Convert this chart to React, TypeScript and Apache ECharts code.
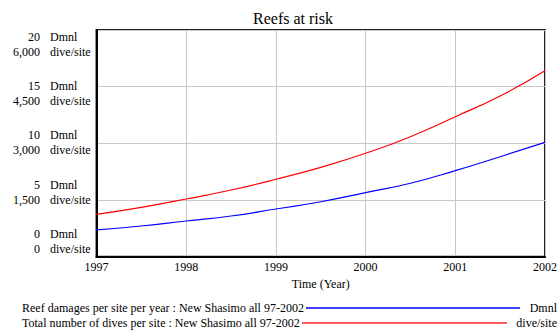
import React, { useEffect, useRef } from "react";
import * as echarts from "echarts";

const TITLE = "Reefs at risk";
const years = [1997, 1997.5, 1998, 1998.5, 1999, 1999.5, 2000, 2000.5, 2001, 2001.5, 2002];
const damages = [2.36, 2.71, 3.15, 3.59, 4.21, 4.85, 5.65, 6.48, 7.59, 8.82, 10.09];
const dives = [1122, 1307, 1527, 1765, 2049, 2366, 2737, 3176, 3705, 4254, 4923];
const leftTicks = ["20", "15", "10", "5", "0"];
const rightTicks = ["6,000", "4,500", "3,000", "1,500", "0"];
const leftUnit = "Dmnl";
const rightUnit = "dive/site";
const seriesNames = [
  "Reef damages per site per year : New Shasimo all 97-2002",
  "Total number of dives per site : New Shasimo all 97-2002",
];
const seriesUnits = ["Dmnl", "dive/site"];
const seriesColors = ["#0000ff", "#ff0000"];

const FONT = "Liberation Serif";

function txt(x: number, y: number, text: string, align: string, z = 2) {
  return {
    type: "text", x, y, z,
    style: {
      text, fontFamily: FONT, fontSize: 12, fill: "#000",
      align, verticalAlign: "middle",
    },
  };
}

export default function App() {
  const ref = useRef<HTMLDivElement>(null);
  useEffect(() => {
    if (!ref.current) return;
    const chart = echarts.init(ref.current, undefined, { renderer: "svg" });

    const graphics: any[] = [];
    leftTicks.forEach((t, i) => {
      const y1 = 36.7 + i * 49.3;
      const y2 = y1 + 15;
      graphics.push(txt(40, y1, t, "right"));
      graphics.push(txt(50, y1, leftUnit, "left"));
      graphics.push(txt(40, y2, rightTicks[i], "right"));
      graphics.push(txt(50, y2, rightUnit, "left"));
    });
    const legendLines = [
      { y: 308, x1: 306, x2: 520 },
      { y: 323, x1: 302, x2: 507 },
    ];
    seriesNames.forEach((n, i) => {
      const L = legendLines[i];
      graphics.push(txt(22, L.y, n, "left", 1));
      graphics.push({
        type: "line", z: 2,
        shape: { x1: L.x1, y1: L.y, x2: L.x2, y2: L.y },
        style: { stroke: i === 0 ? seriesColors[0] : "#ff5a5a", lineWidth: i === 0 ? 1.3 : 2 },
      });
      graphics.push(txt(557, L.y, seriesUnits[i], "right"));
    });

    chart.setOption({
      animation: false,
      backgroundColor: "#fff",
      title: {
        text: TITLE,
        left: 288,
        top: 5,
        textAlign: "center",
        textStyle: { fontFamily: FONT, fontSize: 16, fontWeight: "normal", color: "#000" },
      },
      grid: {
        left: 96.5, right: 14, top: 30, bottom: 76.3,
        show: true, borderColor: "#222", borderWidth: 2, backgroundColor: "transparent",
      },
      xAxis: {
        type: "value", min: 1997, max: 2002, interval: 1,
        name: "Time (Year)", nameLocation: "middle", nameGap: 18,
        nameTextStyle: { fontFamily: FONT, fontSize: 12, color: "#000" },
        axisLine: { show: true, lineStyle: { color: "#000", width: 2 } },
        axisTick: { show: false },
        axisLabel: { fontFamily: FONT, fontSize: 12, color: "#000", margin: 4, formatter: (v: number) => String(v) },
        splitLine: { show: true, lineStyle: { color: "#c8c8c8", width: 1 } },
      },
      yAxis: [
        {
          type: "value", min: 0, max: 20, interval: 5,
          axisLine: { show: true, lineStyle: { color: "#000", width: 2 } },
          axisTick: { show: false }, axisLabel: { show: false },
          splitLine: { show: true, lineStyle: { color: "#c8c8c8", width: 1 } },
        },
        {
          type: "value", min: 0, max: 6000, interval: 1500,
          axisLine: { show: false }, axisTick: { show: false }, axisLabel: { show: false },
          splitLine: { show: false },
        },
      ],
      series: [
        {
          type: "line", name: seriesNames[0], yAxisIndex: 0, showSymbol: false, smooth: true,
          data: years.map((y, i) => [y, damages[i]]),
          lineStyle: { color: seriesColors[0], width: 1.2 }, itemStyle: { color: seriesColors[0] },
        },
        {
          type: "line", name: seriesNames[1], yAxisIndex: 1, showSymbol: false, smooth: true,
          data: years.map((y, i) => [y, dives[i]]),
          lineStyle: { color: seriesColors[1], width: 1.2 }, itemStyle: { color: seriesColors[1] },
        },
      ],
      graphic: graphics,
    });
    return () => chart.dispose();
  }, []);
  return <div ref={ref} style={{ width: 560, height: 333, position: "absolute", left: 0, top: 0 }} />;
}
